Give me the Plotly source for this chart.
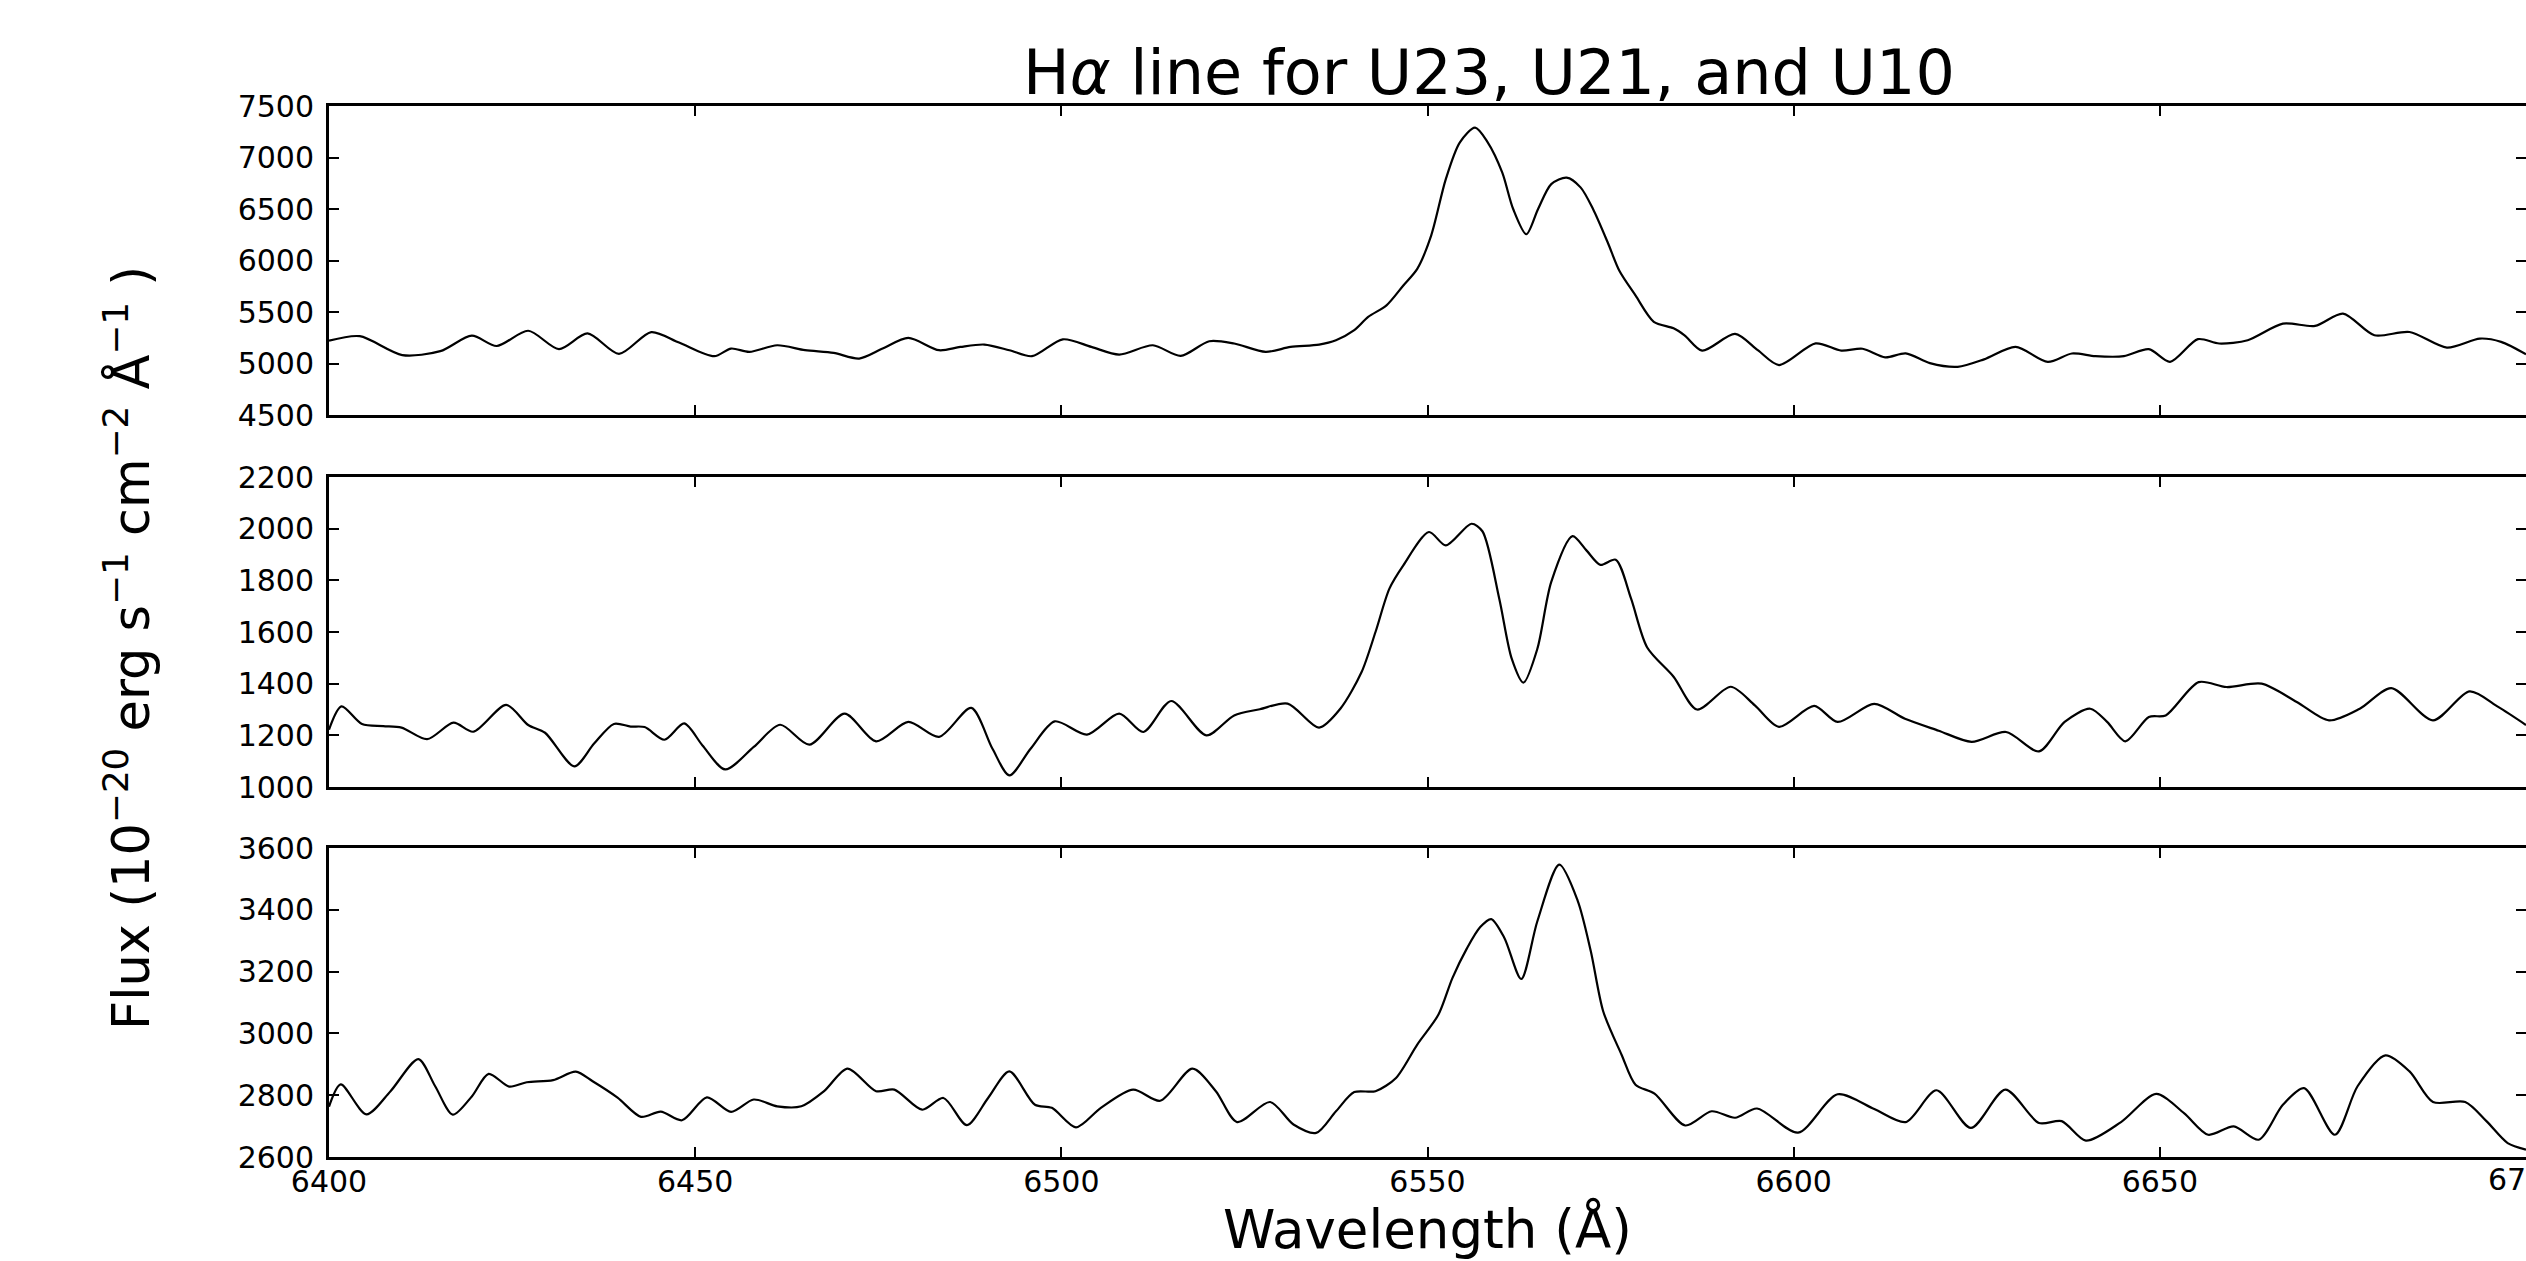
import plotly.graph_objects as go

# ---------------- data ----------------
wl_u23 = [6400.0, 6404.2, 6410.0, 6415.2, 6419.5, 6422.9, 6427.2, 6431.4, 6435.3, 6439.6,
          6444.0, 6447.8, 6452.6, 6454.9, 6457.4, 6461.2, 6465.0, 6468.9, 6472.4, 6475.6,
          6479.1, 6483.3, 6486.2, 6489.5, 6492.9, 6496.0, 6500.2, 6504.1, 6507.9, 6512.5,
          6516.3, 6520.2, 6523.6, 6527.9, 6531.3, 6535.2, 6537.5, 6540.0, 6541.9, 6544.4,
          6546.7, 6548.6, 6550.5, 6552.5, 6554.4, 6556.5, 6558.2, 6560.2, 6561.7, 6563.5,
          6565.1, 6566.9, 6569.0, 6570.9, 6572.6, 6574.6, 6576.2, 6578.4, 6580.9, 6583.6,
          6585.1, 6587.5, 6592.0, 6595.1, 6598.0, 6603.0, 6606.5, 6609.4, 6612.5, 6615.3,
          6618.6, 6622.4, 6626.0, 6630.3, 6634.7, 6638.0, 6641.2, 6645.1, 6648.5, 6651.4,
          6655.2, 6658.1, 6662.0, 6666.8, 6671.2, 6675.0, 6679.3, 6684.1, 6689.2, 6693.7,
          6696.6, 6700.0]
flux_u23 = [5221, 5265, 5082, 5120, 5270, 5170, 5318, 5140, 5292, 5094,
            5305, 5203, 5071, 5145, 5113, 5177, 5129, 5103, 5048, 5145,
            5248, 5129, 5161, 5184, 5129, 5071, 5235, 5161, 5087, 5177,
            5074, 5216, 5194, 5113, 5161, 5184, 5226, 5323, 5452, 5565,
            5758, 5919, 6242, 6790, 7145, 7290, 7150, 6855, 6500, 6255,
            6500, 6742, 6805, 6710, 6500, 6177, 5900, 5661, 5405, 5342,
            5274, 5125, 5287, 5129, 4985, 5195, 5125, 5143, 5060, 5098,
            5004, 4968, 5040, 5161, 5016, 5097, 5071, 5071, 5139, 5016,
            5236, 5194, 5226, 5387, 5365, 5484, 5274, 5306, 5155, 5242,
            5210, 5090]

wl_u21 = [6400.0, 6401.7, 6404.5, 6407.4, 6409.9, 6413.4, 6417.0, 6419.7, 6424.2, 6427.2,
          6429.5, 6433.5, 6436.2, 6438.9, 6441.2, 6443.1, 6445.8, 6448.5, 6451.0, 6454.1,
          6458.0, 6461.6, 6465.6, 6470.4, 6474.7, 6479.1, 6483.3, 6487.7, 6490.6, 6492.9,
          6495.8, 6499.1, 6503.5, 6507.9, 6511.2, 6515.0, 6519.8, 6523.6, 6527.1, 6530.9,
          6535.2, 6538.1, 6541.0, 6542.9, 6544.8, 6546.7, 6550.2, 6552.5, 6556.0, 6557.5,
          6559.8, 6561.5, 6563.1, 6565.0, 6566.9, 6569.8, 6571.7, 6573.6, 6575.7, 6577.8,
          6580.0, 6583.6, 6586.8, 6591.4, 6594.7, 6598.0, 6602.8, 6606.0, 6611.0, 6615.2,
          6619.8, 6624.3, 6629.0, 6633.5, 6637.0, 6640.5, 6642.8, 6645.3, 6648.5, 6650.8,
          6655.3, 6659.1, 6663.9, 6668.7, 6673.1, 6677.3, 6681.6, 6687.3, 6692.3, 6696.2,
          6700.0]
flux_u21 = [1222, 1312, 1244, 1236, 1230, 1185, 1249, 1214, 1318, 1240,
            1210, 1080, 1168, 1244, 1234, 1232, 1183, 1246, 1161, 1068,
            1155, 1241, 1164, 1284, 1177, 1252, 1194, 1306, 1148, 1045,
            1148, 1254, 1203, 1284, 1213, 1333, 1200, 1277, 1301, 1323,
            1230, 1303, 1445, 1600, 1768, 1858, 1987, 1935, 2019, 1990,
            1729, 1497, 1404, 1535, 1794, 1971, 1916, 1860, 1880, 1729,
            1540, 1427, 1300, 1388, 1316, 1233, 1314, 1252, 1322, 1264,
            1218, 1175, 1213, 1138, 1252, 1303, 1252, 1177, 1271, 1277,
            1406, 1387, 1400, 1329, 1258, 1303, 1383, 1258, 1370, 1310,
            1240]

wl_u10 = [6400.0, 6401.6, 6405.1, 6408.4, 6412.2, 6414.5, 6416.9, 6419.5, 6421.8, 6424.6,
          6427.0, 6430.6, 6433.7, 6436.0, 6439.4, 6442.6, 6445.3, 6448.2, 6451.6, 6454.9,
          6458.0, 6461.2, 6464.5, 6467.6, 6470.8, 6474.7, 6477.2, 6481.0, 6483.9, 6487.1,
          6490.0, 6492.9, 6496.4, 6498.7, 6502.0, 6505.4, 6509.8, 6513.5, 6517.9, 6521.1,
          6524.0, 6528.5, 6531.7, 6534.8, 6537.5, 6540.0, 6542.9, 6545.7, 6548.6, 6551.5,
          6553.4, 6555.4, 6557.2, 6558.7, 6560.5, 6562.8, 6565.0, 6568.0, 6570.5, 6572.3,
          6574.0, 6576.5, 6578.4, 6581.0, 6585.2, 6588.8, 6592.0, 6595.0, 6600.6, 6606.0,
          6611.0, 6615.3, 6619.5, 6624.2, 6628.9, 6633.5, 6636.6, 6639.9, 6644.7, 6649.5,
          6653.3, 6656.6, 6660.1, 6663.5, 6666.8, 6669.7, 6673.9, 6677.0, 6680.8, 6684.1,
          6687.3, 6691.7, 6694.6, 6697.5, 6700.0]
flux_u10 = [2763, 2835, 2738, 2813, 2917, 2829, 2737, 2796, 2869, 2828,
            2842, 2849, 2876, 2845, 2792, 2730, 2747, 2719, 2793, 2746,
            2786, 2764, 2764, 2813, 2886, 2813, 2818, 2753, 2791, 2703,
            2791, 2877, 2769, 2759, 2696, 2759, 2818, 2782, 2886, 2813,
            2713, 2778, 2705, 2678, 2748, 2810, 2813, 2856, 2964, 3061,
            3179, 3276, 3344, 3370, 3309, 3176, 3363, 3546, 3430, 3266,
            3071, 2931, 2834, 2805, 2702, 2748, 2727, 2757, 2679, 2803,
            2755, 2713, 2816, 2694, 2818, 2710, 2716, 2653, 2713, 2804,
            2742, 2672, 2699, 2656, 2769, 2823, 2672, 2829, 2929, 2877,
            2778, 2778, 2716, 2645, 2624]

x_range = [6400, 6700]
x_ticks = [6400, 6450, 6500, 6550, 6600, 6650, 6700]
y_ranges = {"u23": [4500, 7500], "u21": [1000, 2200], "u10": [2600, 3600]}
y_dticks = {"u23": 500, "u21": 200, "u10": 200}

title_text = "H<i>α</i> line for U23, U21, and U10"
x_title = "Wavelength (Å)"
y_title = "Flux (10<sup>−20</sup> erg s<sup>−1</sup> cm<sup>−2</sup> Å<sup>−1</sup> )"

# ---------------- figure ----------------
W, H = 2526, 1261
FONT = "DejaVu Sans"
TICK_SIZE = 30
line_style = dict(color="black", width=2.2, shape="spline", smoothing=0.8)

fig = go.Figure()
fig.add_trace(go.Scatter(x=wl_u23, y=flux_u23, mode="lines", line=line_style,
                         xaxis="x3", yaxis="y3", showlegend=False))
fig.add_trace(go.Scatter(x=wl_u21, y=flux_u21, mode="lines", line=line_style,
                         xaxis="x2", yaxis="y2", showlegend=False))
fig.add_trace(go.Scatter(x=wl_u10, y=flux_u10, mode="lines", line=line_style,
                         xaxis="x", yaxis="y", showlegend=False))

def dom(top_px, bot_px):
    return [1 - bot_px / H, 1 - top_px / H]

common_axis = dict(showgrid=False, zeroline=False, showline=True, linecolor="black",
                   linewidth=3, mirror="allticks", ticks="inside", ticklen=10,
                   tickwidth=2, tickcolor="black",
                   tickfont=dict(family=FONT, size=TICK_SIZE, color="black"))

xcommon = dict(common_axis, range=x_range, tickvals=x_ticks, domain=[0, 1])
fig.update_layout(
    xaxis=dict(xcommon, anchor="y", showticklabels=True, ticklabelstandoff=-4),
    xaxis2=dict(xcommon, anchor="y2", showticklabels=False, matches="x"),
    xaxis3=dict(xcommon, anchor="y3", showticklabels=False, matches="x"),
    yaxis=dict(common_axis, anchor="x", domain=dom(848, 1157), range=y_ranges["u10"],
               dtick=y_dticks["u10"], tick0=0, ticklabelstandoff=6),
    yaxis2=dict(common_axis, anchor="x2", domain=dom(477, 787), range=y_ranges["u21"],
                dtick=y_dticks["u21"], tick0=0, ticklabelstandoff=6),
    yaxis3=dict(common_axis, anchor="x3", domain=dom(106, 415), range=y_ranges["u23"],
                dtick=y_dticks["u23"], tick0=0, ticklabelstandoff=6),
)

annotations = [
    dict(text=x_title, xref="paper", yref="paper", x=0.5, y=1 - 1228 / H,
         xanchor="center", yanchor="middle", showarrow=False,
         font=dict(family=FONT, size=53, color="black")),
    dict(text=y_title, xref="paper", yref="paper", x=(128 - 329) / (W - 329),
         y=1 - 648 / H, xanchor="center", yanchor="middle", textangle=-90,
         showarrow=False, font=dict(family=FONT, size=51, color="black")),
    # last x tick label, which sits on the right edge of the picture (cut as in the reference)
    dict(text=str(x_ticks[-1]), xref="x", yref="paper", x=x_ticks[-1], y=1 - 1179 / H,
         xanchor="center", yanchor="middle", showarrow=False,
         font=dict(family=FONT, size=TICK_SIZE, color="black")),
]

fig.update_layout(
    width=W, height=H,
    margin=dict(l=329, r=0, t=0, b=0, autoexpand=False),
    paper_bgcolor="white", plot_bgcolor="white",
    font=dict(family=FONT, color="black"),
    title=dict(text=title_text, xref="container", yref="container",
               x=1489 / W, y=1 - 72 / H, xanchor="center", yanchor="middle",
               font=dict(family=FONT, size=62, color="black")),
    annotations=annotations,
)

fig.write_html("out.html")
